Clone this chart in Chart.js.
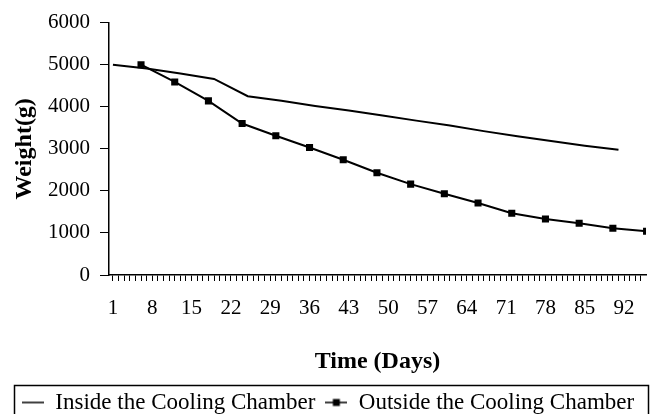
<!DOCTYPE html>
<html>
<head>
<meta charset="utf-8">
<script src="https://cdn.jsdelivr.net/npm/chart.js@4/dist/chart.umd.min.js"></script>
<style>
html,body{margin:0;padding:0;background:#fff;}
canvas{display:block;}
</style>
</head>
<body>
<canvas id="c" width="656" height="414"></canvas>
<script>
// ---- data ----
const insideDays = [1, 7, 13, 19, 25, 31, 37, 43, 49, 55, 61, 67, 73, 79, 85, 91];
const insideWeight = [5000, 4910, 4790, 4660, 4250, 4140, 4020, 3910, 3790, 3670, 3555, 3420, 3300, 3185, 3075, 2975];
const outsideDays = [6, 12, 18, 24, 30, 36, 42, 48, 54, 60, 66, 72, 78, 84, 90, 96];
const outsideWeight = [5000, 4590, 4140, 3600, 3310, 3030, 2740, 2430, 2160, 1930, 1710, 1470, 1330, 1230, 1110, 1040];
const xTickLabels = [1, 8, 15, 22, 29, 36, 43, 50, 57, 64, 71, 78, 85, 92];
const seriesNames = ['Inside the Cooling Chamber', 'Outside the Cooling Chamber'];
const xTitle = 'Time (Days)';
const yTitle = 'Weight(g)';

const SERIF = "'Liberation Serif', 'Times New Roman', serif";

function makeIcon(withMarker) {
  const c = document.createElement('canvas');
  c.width = 22; c.height = 10;
  const g = c.getContext('2d');
  g.strokeStyle = '#000';
  g.lineWidth = 1.5;
  g.beginPath(); g.moveTo(0, 5); g.lineTo(22, 5); g.stroke();
  if (withMarker) { g.fillStyle = '#000'; g.fillRect(7.5, 1.5, 7, 7); }
  return c;
}
const legendIcons = [makeIcon(false), makeIcon(true)];

const legendFrame = {
  id: 'legendFrame',
  afterDraw(chart) {
    const lg = chart.legend;
    const ctx = chart.ctx;
    ctx.save();
    ctx.strokeStyle = '#000';
    ctx.lineWidth = 1.5;
    ctx.strokeRect(14.5, lg.top + 4.5, chart.width - 22, lg.height + 20);
    ctx.restore();
  }
};

Chart.defaults.font.family = SERIF;
Chart.defaults.color = '#000';

new Chart(document.getElementById('c'), {
  type: 'line',
  data: {
    datasets: [
      {
        label: seriesNames[0],
        data: insideDays.map((d, i) => ({x: d, y: insideWeight[i]})),
        borderColor: '#000',
        backgroundColor: '#000',
        borderWidth: 2,
        pointRadius: 0,
        tension: 0
      },
      {
        label: seriesNames[1],
        data: outsideDays.map((d, i) => ({x: d, y: outsideWeight[i]})),
        borderColor: '#000',
        backgroundColor: '#000',
        borderWidth: 2,
        pointStyle: 'rect',
        pointRadius: 5,
        pointBorderWidth: 0,
        tension: 0
      }
    ]
  },
  options: {
    responsive: false,
    animation: false,
    devicePixelRatio: 1,
    layout: { padding: { top: 22, left: 0, right: 0, bottom: -10 } },
    plugins: {
      tooltip: { enabled: false },
      legend: {
        position: 'bottom',
        labels: {
          usePointStyle: true,
          pointStyleWidth: 22,
          boxHeight: 10,
          padding: 10,
          color: '#000',
          font: { size: 23, family: SERIF },
          generateLabels(chart) {
            const items = Chart.defaults.plugins.legend.labels.generateLabels(chart);
            items.forEach((it, i) => { it.pointStyle = legendIcons[i]; });
            return items;
          }
        }
      }
    },
    scales: {
      x: {
        type: 'linear',
        min: 0.3,
        max: 95.9,
        afterBuildTicks(scale) {
          const t = [];
          for (let d = 1; d <= 95; d++) t.push({value: d});
          scale.ticks = t;
        },
        ticks: {
          autoSkip: false,
          maxRotation: 0,
          minRotation: 0,
          padding: 15,
          color: '#000',
          font: { size: 21, family: SERIF },
          callback: (v) => xTickLabels.includes(v) ? String(v) : ''
        },
        grid: {
          drawOnChartArea: false,
          drawTicks: true,
          tickLength: 6,
          color: '#000',
          lineWidth: 1
        },
        border: { display: true, color: '#000', width: 1.5 },
        title: {
          display: true,
          text: xTitle,
          color: '#000',
          font: { size: 24, weight: 'bold', family: SERIF },
          padding: { top: 11, bottom: 5 }
        }
      },
      y: {
        min: 0,
        max: 6000,
        afterFit(scale) { scale.width = 109; },
        ticks: {
          stepSize: 1000,
          padding: 10,
          color: '#000',
          font: { size: 21, family: SERIF },
          callback: (v) => String(v)
        },
        grid: {
          drawOnChartArea: false,
          drawTicks: true,
          tickLength: 9,
          color: '#000',
          lineWidth: 1
        },
        border: { display: true, color: '#000', width: 1.5 },
        title: {
          display: true,
          text: yTitle,
          color: '#000',
          font: { size: 24, weight: 'bold', family: SERIF },
          padding: { top: 10, bottom: 0 }
        }
      }
    }
  },
  plugins: [legendFrame]
});
</script>
</body>
</html>
